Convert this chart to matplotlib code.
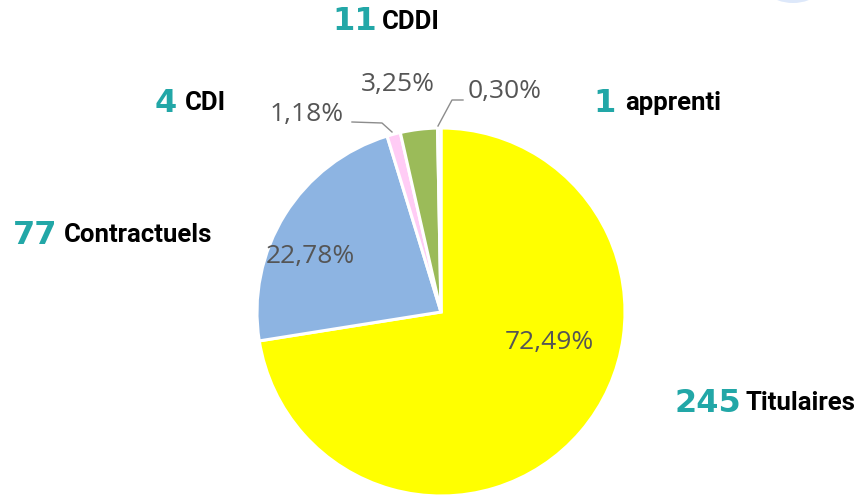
import matplotlib
matplotlib.use("Agg")
import matplotlib.pyplot as plt
from matplotlib.patches import Ellipse

# ---- data ----
categories = ["Titulaires", "Contractuels", "CDI", "CDDI", "apprenti"]
counts = [245, 77, 4, 11, 1]
percents = [72.49, 22.78, 1.18, 3.25, 0.30]
colors = ["#ffff00", "#8db4e2", "#ffccf5", "#9bbb59", "#f7f7f7"]

W, H = 867, 498
fig = plt.figure(figsize=(W / 100, H / 100), dpi=100)
fig.patch.set_facecolor("white")

def fx(px):
    return px / W

def fy(py):
    return 1 - py / H

# pie axes: center (441, 312) px, radius 184 px
cx, cy, r = 441, 312, 184
ax = fig.add_axes([fx(cx - r), fy(cy + r), 2 * r / W, 2 * r / H])
ax.pie(percents, colors=colors, startangle=90, counterclock=False,
       wedgeprops=dict(edgecolor="white", linewidth=2.2))
ax.set_xlim(-1, 1)
ax.set_ylim(-1, 1)
ax.set_aspect("equal")
ax.axis("off")

def d(px, py):
    return ((px - cx) / r, (cy - py) / r)

def pct(v):
    return f"{v:.2f}%".replace(".", ",")

pct_pos = [(549, 343), (310, 257), (307, 114), (398, 85), (505, 92)]
for v, (px, py) in zip(percents, pct_pos):
    x, y = d(px, py)
    ax.text(x, y, pct(v), ha="center", va="center", fontsize=19,
            color="#555555", family="Open Sans", clip_on=False)

# leader lines
for pts in [[(352, 122), (382, 123), (392, 132)],
            [(463, 100), (452, 100), (438, 126)]]:
    xs, ys = zip(*[d(*p) for p in pts])
    ax.plot(xs, ys, color="#8c8c8c", lw=1.0, clip_on=False)

# side annotations: number in teal + category in bold black
teal = "#22a7a7"
ann = [(377, 382, 22), (177, 185, 103), (616, 625, 103),
       (57, 64, 235), (741, 745, 403)]
order = [3, 2, 4, 1, 0]
for (xr, xl, yc), i in zip(ann, order):
    fig.text(fx(xr), fy(yc), str(counts[i]), ha="right", va="center",
             fontsize=23, fontweight="bold", color=teal, family="DejaVu Sans")
    fig.text(fx(xl), fy(yc), categories[i], ha="left", va="center",
             fontsize=18.5, fontweight="bold", color="black", family="Roboto")

# decorative light-blue shape at top right
deco = Ellipse((fx(793), fy(-32)), 80 / W, 70 / H, transform=fig.transFigure,
               facecolor="#dde8fa", edgecolor="none")
fig.patches.append(deco)

fig.savefig("out.png", dpi=100)
